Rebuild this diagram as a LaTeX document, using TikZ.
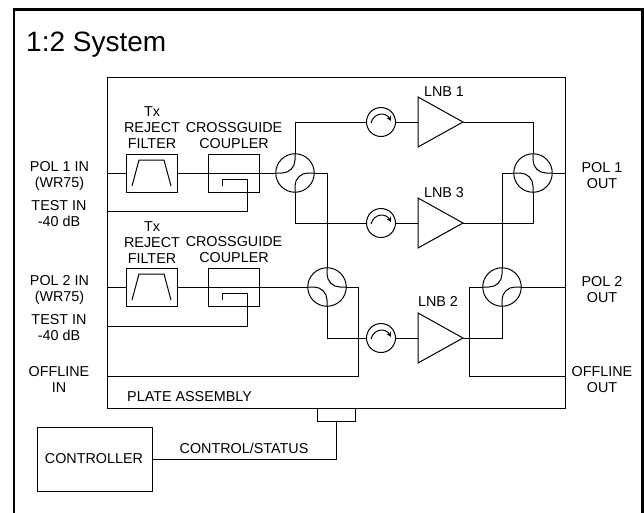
\documentclass[tikz,border=0pt]{standalone}
\usepackage{fontspec}
\setmainfont{Liberation Sans}
\usetikzlibrary{shapes.geometric,arrows.meta,calc}
\tikzset{
  wire/.style={draw=black,line width=1pt,line join=miter},
  boxnode/.style={draw=black,line width=1pt,rectangle,inner sep=0pt,outer sep=0pt},
  devbox/.style={boxnode,minimum width=51pt,minimum height=38pt},
  hybrid/.style={draw=black,line width=1pt,circle,minimum size=38.5pt,inner sep=0pt,outer sep=0pt},
  circulator/.style={draw=black,line width=1pt,circle,minimum size=29pt,inner sep=0pt,outer sep=0pt},
  lnb/.style={draw=black,line width=1pt,isosceles triangle,isosceles triangle stretches,shape border rotate=0,
    minimum height=45pt,minimum width=50pt,inner sep=0pt,outer sep=0pt,anchor=apex},
  lbl/.style={font=\fontsize{14.35}{16}\selectfont,align=center,inner sep=0pt,text=black},
  hybarc/.style={wire,rounded corners=13pt},
}
\newcommand{\circmark}[1]{\draw[line width=1pt,-{Stealth[length=5pt,width=5pt]}]
  ($(#1.center)+(-10,1)$) .. controls ($(#1.center)+(-7,-10)$) and ($(#1.center)+(5,-10)$) .. ($(#1.center)+(10,-1)$);}
\newcommand{\filtmark}[1]{\draw[line width=1pt]
  ($(#1.center)+(-19.5,13)$) -- ($(#1.center)+(-12.5,-13)$) -- ($(#1.center)+(12.5,-13)$) -- ($(#1.center)+(19.5,13)$);}
\begin{document}
\begin{tikzpicture}[x=1pt,y=-1pt]
\useasboundingbox (0,0) rectangle (644,512);
\fill[white] (0,0) rectangle (644,512);
\draw[line width=2.5pt,black] (14,513) -- (14,9.5) -- (642.5,9.5) -- (642.5,513);
\node[font=\fontsize{28}{30}\selectfont,inner sep=0pt,anchor=west] (title) at (26,44.5) {1:2 System};

% plate
\node[boxnode,minimum width=458pt,minimum height=331pt] (plate) at (336,242.5) {};
\node[boxnode,minimum width=38pt,minimum height=13pt] (port) at (336,414.5) {};
\node[boxnode,minimum width=115pt,minimum height=64pt] (ctrl) at (94.5,459) {};

% free ends on the plate
\coordinate (in1) at (107,173);
\coordinate (test1) at (107,211);
\coordinate (in2) at (107,287);
\coordinate (test2) at (107,326);
\coordinate (offin) at (107,376);
\coordinate (out1) at (565,173);
\coordinate (out2) at (565,287);
\coordinate (offout) at (565,376);
\coordinate (offturnA) at (358,376);
\coordinate (offturnB) at (469,376);
\coordinate (hook1a) at (247,179);
\coordinate (hook1b) at (222,179);
\coordinate (hook1c) at (222,186);
\coordinate (hook2a) at (247,293);
\coordinate (hook2b) at (222,293);
\coordinate (hook2c) at (222,300);

% devices
\node[devbox] (f1) at (151.5,173) {};
\node[devbox] (f2) at (151.5,287) {};
\node[devbox] (c1) at (234,173) {};
\node[devbox] (c2) at (234,287) {};
\node[hybrid] (h1) at (295,173) {};
\node[hybrid] (h2) at (327,287) {};
\node[hybrid] (h3) at (533,173) {};
\node[hybrid] (h4) at (502,287) {};
\node[circulator] (cc1) at (381,122) {};
\node[circulator] (cc3) at (381,223) {};
\node[circulator] (cc2) at (381,338) {};
\node[lnb] (l1) at (463,122) {};
\node[lnb] (l3) at (463,223) {};
\node[lnb] (l2) at (463,338) {};
\filtmark{f1}
\filtmark{f2}
\circmark{cc1}
\circmark{cc3}
\circmark{cc2}

% connectors
\draw[wire] (in1) -- (f1.west);
\draw[wire] (f1.east) -- (h1.west);
\draw[wire] (in2) -- (f2.west);
\draw[wire] (f2.east) -- (h2.west);
\draw[wire] (test1) -| (hook1a) -- (hook1b) -- (hook1c);
\draw[wire] (test2) -| (hook2a) -- (hook2b) -- (hook2c);
\draw[wire] (h1.north) |- (cc1.west);
\draw[wire] (h1.south) |- (cc3.west);
\draw[wire] (h1.east) -| (h2.north);
\draw[wire] (h2.south) |- (cc2.west);
\draw[wire] (h2.east) -| (offturnA) -- (offin);
\draw[wire] (cc1.east) -- (l1.lower side);
\draw[wire] (cc3.east) -- (l3.lower side);
\draw[wire] (cc2.east) -- (l2.lower side);
\draw[wire] (l1.apex) -| (h3.north);
\draw[wire] (l3.apex) -| (h3.south);
\draw[wire] (l2.apex) -| (h4.south);
\draw[wire] (h3.east) -- (out1);
\draw[wire] (h3.west) -| (h4.north);
\draw[wire] (h4.east) -- (out2);
\draw[wire] (h4.west) -| (offturnB) -- (offout);
\draw[wire] (ctrl.east) -| (port.south);

% inner quarter arcs of the hybrids
\draw[hybarc] (h1.north) |- (h1.west);
\draw[hybarc] (h1.south) |- (h1.east);
\draw[hybarc] (h2.north) |- (h2.east);
\draw[hybarc] (h2.south) |- (h2.west);
\draw[hybarc] (h3.north) |- (h3.east);
\draw[hybarc] (h3.south) |- (h3.west);
\draw[hybarc] (h4.north) |- (h4.west);
\draw[hybarc] (h4.south) |- (h4.east);

% labels
\node[lbl] (t1) at (59.5,175.5) {POL 1 IN\\(WR75)};
\node[lbl] (t2) at (59,214) {TEST IN\\-40 dB};
\node[lbl] (t3) at (152,128) {Tx\\REJECT\\FILTER};
\node[lbl] (t4) at (234,136) {CROSSGUIDE\\COUPLER};
\node[lbl] (t5) at (59.5,290) {POL 2 IN\\(WR75)};
\node[lbl] (t6) at (59,328) {TEST IN\\-40 dB};
\node[lbl] (t7) at (152,242.5) {Tx\\REJECT\\FILTER};
\node[lbl] (t8) at (234,250) {CROSSGUIDE\\COUPLER};
\node[lbl] (t9) at (59,379.5) {OFFLINE\\IN};
\node[lbl,anchor=west] (t10) at (127,397) {PLATE ASSEMBLY};
\node[lbl] (t11) at (444,92) {LNB 1};
\node[lbl] (t12) at (444,193) {LNB 3};
\node[lbl] (t13) at (438,301) {LNB 2};
\node[lbl] (t14) at (602,176) {POL 1\\OUT};
\node[lbl] (t15) at (602,290) {POL 2\\OUT};
\node[lbl] (t16) at (602,379.5) {OFFLINE\\OUT};
\node[lbl] (t17) at (94,459) {CONTROLLER};
\node[lbl] (t18) at (244,448) {CONTROL/STATUS};
\end{tikzpicture}
\end{document}
